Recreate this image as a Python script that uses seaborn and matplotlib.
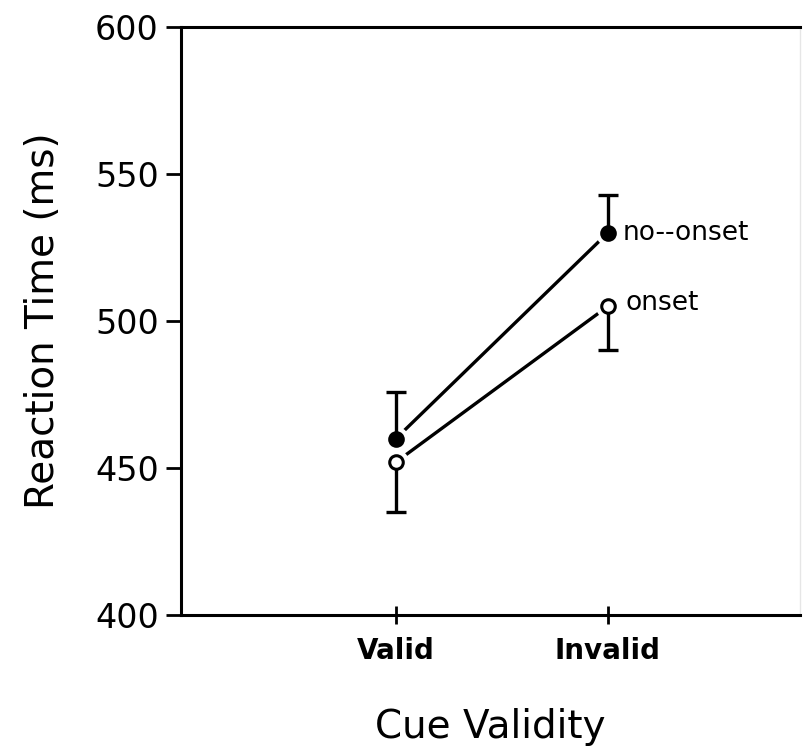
import matplotlib
matplotlib.use("Agg")
import matplotlib.pyplot as plt
import numpy as np
import pandas as pd
import seaborn as sns

# values
conditions = ["Valid", "Invalid"]
no_onset_rt = [460, 530]
no_onset_err_up = [16, 13]
onset_rt = [452, 505]
onset_err_down = [17, 15]
series_labels = ["no--onset", "onset"]

sns.set_theme(style="white")
plt.rcParams["font.family"] = ["DejaVu Sans"]
plt.rcParams.update({"text.color": "black", "axes.labelcolor": "black",
                     "xtick.color": "black", "ytick.color": "black"})

df = pd.DataFrame({
    "cue": conditions * 2,
    "x": [0, 1, 0, 1],
    "rt": no_onset_rt + onset_rt,
    "group": ["no-onset"] * 2 + ["onset"] * 2,
})

fig = plt.figure(figsize=(8.08, 7.46), dpi=100)
ax = fig.add_axes([0.224, 0.1756, 0.766, 0.7882])

# connecting lines
sns.lineplot(data=df, x="x", y="rt", hue="group", palette=["black", "black"],
             linewidth=2.4, legend=False, ax=ax, zorder=2)

x = np.arange(len(conditions))

# white halo so the lines stop short of the markers
sns.scatterplot(data=df, x="x", y="rt", s=330, color="white", linewidth=0,
                legend=False, ax=ax, zorder=4)

# one-sided error bars with a cap at the far end only
no_top = np.array(no_onset_rt) + np.array(no_onset_err_up)
on_bot = np.array(onset_rt) - np.array(onset_err_down)
ax.vlines(x, no_onset_rt, no_top, color="black", linewidth=2.4, zorder=4.5)
ax.vlines(x, onset_rt, on_bot, color="black", linewidth=2.4, zorder=4.5)
ax.scatter(x, no_top, marker="_", s=200, color="black", linewidths=2.4, zorder=4.5)
ax.scatter(x, on_bot, marker="_", s=200, color="black", linewidths=2.4, zorder=4.5)

no = df[df["group"] == "no-onset"]
on = df[df["group"] == "onset"]
sns.scatterplot(data=no, x="x", y="rt", s=110, color="black", edgecolor="black",
                linewidth=1.5, legend=False, ax=ax, zorder=5)
sns.scatterplot(data=on, x="x", y="rt", s=95, color="white", edgecolor="black",
                linewidth=2.2, legend=False, ax=ax, zorder=5)

ax.text(1.07, no_onset_rt[1], series_labels[0], fontsize=19, va="center", ha="left")
ax.text(1.085, onset_rt[1] + 1, series_labels[1], fontsize=19, va="center", ha="left")

ax.set_xlim(-1.014, 1.906)
ax.set_ylim(400, 600)
ax.set_xticks(x)
ax.set_xticklabels(conditions, fontsize=20, fontweight="bold")
ax.set_yticks([400, 450, 500, 550, 600])
ax.tick_params(axis="y", direction="out", length=11, width=2, pad=5,
               labelsize=24, left=True)
ax.tick_params(axis="x", direction="inout", length=13, width=2, pad=9,
               bottom=True)

ax.set_xlabel("Cue Validity", fontsize=28, labelpad=31)
ax.set_ylabel("Reaction Time (ms)", fontsize=28, labelpad=24)

for side in ["left", "bottom", "top"]:
    ax.spines[side].set_color("black")
    ax.spines[side].set_linewidth(2.2)
ax.spines["right"].set_color("#e6e6e6")
ax.spines["right"].set_linewidth(1)

fig.savefig("out.png", dpi=100, facecolor="white")
